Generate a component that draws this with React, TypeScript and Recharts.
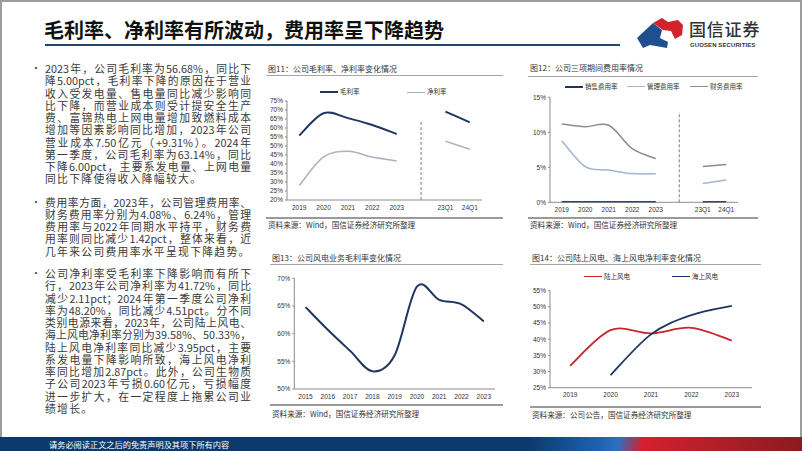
import React from "react";
import { LineChart, Line, XAxis, YAxis, ReferenceLine, Legend } from "recharts";

// 图11 公司毛利率、净利率
const periodsA = ["2019", "2020", "2021", "2022", "2023", " ", "23Q1", "24Q1"];
const grossMargin = [55.8, 68.2, 65.5, 61.68, 56.68, null, 69.14, 63.14];
const netMargin = [28.0, 43.9, 47.1, 43.83, 41.72, null, 52.71, 48.2];
const ticks11 = [20, 25, 30, 35, 40, 45, 50, 55, 60, 65, 70, 75];

// 图12 三项期间费用率
const sellingRate = [0.05, 0.05, 0.05, 0.05, 0.05, null, 0.05, 0.05];
const adminRate = [8.8, 5.1, 4.6, 4.1, 4.08, null, 2.7, 3.2];
const financeRate = [11.2, 10.8, 11.0, 7.66, 6.24, null, 5.1, 5.4];
const ticks12 = [0, 5, 10, 15];

// 图13 风电业务毛利率
const years13 = ["2015", "2016", "2017", "2018", "2019", "2020", "2021", "2022", "2023"];
const windGross = [64.8, 60.7, 56.9, 53.2, 56.1, 68.5, 66.1, 65.3, 62.2];
const ticks13 = [50, 55, 60, 65, 70];

// 图14 陆上/海上风电净利率
const years14 = ["2019", "2020", "2021", "2022", "2023"];
const onshoreNet = [31.8, 42.8, 41.8, 43.53, 39.58];
const offshoreNet = [null, 28.9, 41.5, 47.46, 50.33];
const ticks14 = [25, 30, 35, 40, 45, 50, 55];

const bullet1 = [
  "2023年，公司毛利率为56.68%，同比下",
  "降5.00pct，毛利率下降的原因在于营业",
  "收入受发电量、售电量同比减少影响同",
  "比下降，而营业成本则受计提安全生产",
  "费、富锦热电上网电量增加致燃料成本",
  "增加等因素影响同比增加，2023年公司",
  "营业成本7.50亿元（+9.31%）。2024年",
  "第一季度，公司毛利率为63.14%，同比",
  "下降6.00pct，主要系发电量、上网电量",
  "同比下降使得收入降幅较大。",
];
const bullet2 = [
  "费用率方面，2023年，公司管理费用率、",
  "财务费用率分别为4.08%、6.24%，管理",
  "费用率与2022年同期水平持平，财务费",
  "用率则同比减少1.42pct，整体来看，近",
  "几年来公司费用率水平呈现下降趋势。",
];
const bullet3 = [
  "公司净利率受毛利率下降影响而有所下",
  "行，2023年公司净利率为41.72%，同比",
  "减少2.11pct；2024年第一季度公司净利",
  "率为48.20%，同比减少4.51pct。分不同",
  "类别电源来看，2023年，公司陆上风电、",
  "海上风电净利率分别为39.58%、50.33%，",
  "陆上风电净利率同比减少3.95pct，主要",
  "系发电量下降影响所致，海上风电净利",
  "率同比增加2.87pct。此外，公司生物质",
  "子公司2023年亏损0.60亿元，亏损幅度",
  "进一步扩大，在一定程度上拖累公司业",
  "绩增长。",
];

const NAVY = "#1f3760";
const AXIS = "#8c8c8c";
const FONT = '"Liberation Sans", "Noto Sans CJK SC", sans-serif';

// excel-like smoothing (catmull-rom through the points)
const smooth: any = (ctx: any) => {
  let pts: number[][] = [];
  return {
    areaStart() {},
    areaEnd() {},
    lineStart() {
      pts = [];
    },
    lineEnd() {
      if (!pts.length) return;
      ctx.moveTo(pts[0][0], pts[0][1]);
      for (let i = 0; i < pts.length - 1; i++) {
        const p0 = pts[i - 1] || pts[i];
        const p1 = pts[i];
        const p2 = pts[i + 1];
        const p3 = pts[i + 2] || p2;
        ctx.bezierCurveTo(
          p1[0] + (p2[0] - p0[0]) / 6,
          p1[1] + (p2[1] - p0[1]) / 6,
          p2[0] - (p3[0] - p1[0]) / 6,
          p2[1] - (p3[1] - p1[1]) / 6,
          p2[0],
          p2[1]
        );
      }
    },
    point(x: number, y: number) {
      pts.push([+x, +y]);
    },
  };
};

const data11 = periodsA.map((p, i) => ({ period: p, gross: grossMargin[i], net: netMargin[i] }));
const data12 = periodsA.map((p, i) => ({
  period: p,
  selling: sellingRate[i],
  admin: adminRate[i],
  finance: financeRate[i],
}));
const data13 = years13.map((y, i) => ({ year: y, gross: windGross[i] }));
const data14 = years14.map((y, i) => ({ year: y, onshore: onshoreNet[i], offshore: offshoreNet[i] }));

const pct = (v: number) => `${v}%`;
const tickStyle = { fontSize: 6.5, fill: "#333" };

// legend items placed by name, in series order
const makeLegend = (names: string[], lefts: number[]) => (props: any) => {
  const items = [...(props.payload || [])].sort((a: any, b: any) => names.indexOf(a.value) - names.indexOf(b.value));
  return (
    <div style={{ position: "relative", height: 8 }}>
      {items.map((p: any, i: number) => (
        <div
          key={p.value}
          style={{
            position: "absolute",
            left: lefts[names.indexOf(p.value)] ?? lefts[i],
            top: 0,
            display: "flex",
            alignItems: "center",
            whiteSpace: "nowrap",
            fontSize: 6.5,
            lineHeight: "8px",
            color: "#333",
          }}
        >
          <span
            style={{
              width: 18,
              borderTop: `${p.payload?.strokeWidth ?? 1.5}px solid ${p.color}`,
              marginRight: 2,
            }}
          />
          {p.value}
        </div>
      ))}
    </div>
  );
};

const xAxisProps = {
  tickLine: false,
  interval: 0 as const,
  tick: tickStyle,
  tickSize: 3,
  tickMargin: 2,
  height: 12,
  stroke: AXIS,
};
const yAxisProps = {
  tick: tickStyle,
  tickSize: 2,
  tickMargin: 2,
  stroke: AXIS,
  tickFormatter: pct,
  interval: 0 as const,
};

const Caption = ({ x, x2, titleY, lineY, bottomY, sourceY, title, source }: any) => (
  <>
    <div style={{ position: "absolute", left: x + 2, top: titleY - 5, fontSize: 8, lineHeight: "10px", color: "#333", whiteSpace: "nowrap" }}>
      {title}
    </div>
    <div style={{ position: "absolute", left: x, top: lineY, width: x2 - x, height: 1, background: "#a6a6a6" }} />
    <div style={{ position: "absolute", left: x, top: bottomY, width: x2 - x, height: 1.5, background: "#9a9a9a" }} />
    <div style={{ position: "absolute", left: x + 2, top: sourceY - 5, fontSize: 7.6, lineHeight: "10px", color: "#333", whiteSpace: "nowrap" }}>
      {source}
    </div>
  </>
);

const LH = 12.25;

const Bullet = ({ top, lines }: { top: number; lines: string[] }) => (
  <>
    <div style={{ position: "absolute", left: 31, top: top - LH / 2, fontSize: 10, lineHeight: `${LH}px`, color: "#444" }}>•</div>
    {lines.map((t, i) => (
      <div
        key={i}
        style={{
          position: "absolute",
          left: 45,
          top: top - LH / 2 + i * LH,
          width: 206,
          height: LH,
          fontSize: 10.8,
          lineHeight: `${LH}px`,
          color: "#3a3a3a",
          whiteSpace: "nowrap",
          textAlign: "justify",
          textAlignLast: i === lines.length - 1 ? "left" : "justify",
          letterSpacing: i === lines.length - 1 ? 1.3 : 0,
        }}
      >
        {t}
      </div>
    ))}
  </>
);

export default function App() {
  return (
    <div
      style={{
        position: "relative",
        width: 802,
        height: 451,
        overflow: "hidden",
        background: "#fff",
        fontFamily: '"Noto Sans CJK SC", sans-serif',
      }}
    >
      <style>{`body{margin:0}`}</style>
      {/* slide frame */}
      <div style={{ position: "absolute", left: 0, top: 0, width: 802, height: 1.5, background: "#9c9c9c" }} />
      <div style={{ position: "absolute", left: 0, top: 0, width: 1.5, height: 451, background: "#9c9c9c" }} />
      <div style={{ position: "absolute", left: 800, top: 0, width: 1.5, height: 451, background: "#9c9c9c" }} />

      {/* header */}
      <div style={{ position: "absolute", left: 44, top: 17, fontSize: 20, lineHeight: "26px", fontWeight: 700, color: "#111", whiteSpace: "nowrap" }}>
        毛利率、净利率有所波动，费用率呈下降趋势
      </div>
      <div style={{ position: "absolute", left: 45, top: 43.5, width: 575, height: 2.5, background: "#24466f" }} />
      <svg style={{ position: "absolute", left: 0, top: 0 }} width={802} height={60}>
        <polygon points="637,38 653,23 662,30 660,38 668,42 667,48 650,45 643,48" fill="#1f4f8f" />
        <polygon points="653,23 662,18 668,22 678,20 683,25 682,35 675,39 671,31 663,30" fill="#d1222e" />
      </svg>
      <div style={{ position: "absolute", left: 689, top: 17, fontSize: 17, lineHeight: "24px", fontWeight: 500, color: "#333", letterSpacing: 0.8, whiteSpace: "nowrap" }}>
        国信证券
      </div>
      <div style={{ position: "absolute", left: 690, top: 41, fontSize: 6, lineHeight: "8px", fontWeight: 700, color: "#333", fontFamily: FONT, letterSpacing: 0.1, whiteSpace: "nowrap" }}>
        GUOSEN SECURITIES
      </div>

      {/* text column */}
      <Bullet top={68.3} lines={bullet1} />
      <Bullet top={201.7} lines={bullet2} />
      <Bullet top={273.3} lines={bullet3} />

      {/* captions */}
      <Caption x={266} x2={503} titleY={69} lineY={75} bottomY={217} sourceY={225} title="图11：公司毛利率、净利率变化情况" source="资料来源：Wind，国信证券经济研究所整理" />
      <Caption x={528} x2={758} titleY={68} lineY={75.5} bottomY={217} sourceY={225} title="图12：公司三项期间费用率情况" source="资料来源：Wind，国信证券经济研究所整理" />
      <Caption x={270} x2={503} titleY={258} lineY={264} bottomY={404} sourceY={414} title="图13：公司风电业务毛利率变化情况" source="资料来源：Wind，国信证券经济研究所整理" />
      <Caption x={530} x2={761} titleY={258} lineY={264} bottomY={406} sourceY={415} title="图14：公司陆上风电、海上风电净利率变化情况" source="资料来源：公司公告，国信证券经济研究所整理" />

      {/* 图11 */}
      <div style={{ position: "absolute", left: 258, top: 80, fontFamily: FONT }}>
        <LineChart width={240} height={135} data={data11} margin={{ top: 21, right: 16, bottom: 3, left: 0 }}>
          <XAxis dataKey="period" padding={{ left: 12.2, right: 12.2 }} {...xAxisProps} />
          <YAxis width={29} domain={[20, 75]} ticks={ticks11} {...yAxisProps} />
          <Legend verticalAlign="middle" wrapperStyle={{ top: 8, left: 0, width: 240, height: 8 }} content={makeLegend(["毛利率", "净利率"], [62, 149])} />
          <ReferenceLine segment={[{ x: " ", y: 20 }, { x: " ", y: 63.5 }]} stroke="#7f7f7f" strokeDasharray="3 2" />
          <Line dataKey="gross" name="毛利率" type={smooth} stroke={NAVY} strokeWidth={2} dot={false} activeDot={false} isAnimationActive={false} />
          <Line dataKey="net" name="净利率" type={smooth} stroke="#a9b2c0" strokeWidth={1.5} dot={false} activeDot={false} isAnimationActive={false} />
        </LineChart>
      </div>

      {/* 图12 */}
      <div style={{ position: "absolute", left: 510, top: 80, fontFamily: FONT }}>
        <LineChart width={245} height={140} data={data12} margin={{ top: 17.3, right: 17, bottom: 5.7, left: 0 }}>
          <XAxis dataKey="period" padding={{ left: 11.75, right: 11.75 }} {...xAxisProps} />
          <YAxis width={40} domain={[0, 15]} ticks={ticks12} {...yAxisProps} />
          <Legend verticalAlign="middle" wrapperStyle={{ top: 2.7, left: 0, width: 245, height: 8 }} content={makeLegend(["销售费用率", "管理费用率", "财务费用率"], [55, 117, 180])} />
          <ReferenceLine segment={[{ x: " ", y: 0 }, { x: " ", y: 12.9 }]} stroke="#7f7f7f" strokeDasharray="3 2" />
          <Line dataKey="selling" name="销售费用率" type={smooth} stroke={NAVY} strokeWidth={2} dot={false} activeDot={false} isAnimationActive={false} />
          <Line dataKey="admin" name="管理费用率" type={smooth} stroke="#a3b6cf" strokeWidth={1.5} dot={false} activeDot={false} isAnimationActive={false} />
          <Line dataKey="finance" name="财务费用率" type={smooth} stroke="#868d98" strokeWidth={1.5} dot={false} activeDot={false} isAnimationActive={false} />
        </LineChart>
      </div>

      {/* 图13 */}
      <div style={{ position: "absolute", left: 265, top: 268, fontFamily: FONT }}>
        <LineChart width={235} height={135} data={data13} margin={{ top: 10.3, right: 5, bottom: 2, left: 0 }}>
          <XAxis dataKey="year" padding={{ left: 11.2, right: 11.2 }} {...xAxisProps} />
          <YAxis width={29.3} domain={[50, 70]} ticks={ticks13} {...yAxisProps} />
          <Line dataKey="gross" name="风电毛利率" type={smooth} stroke={NAVY} strokeWidth={2} dot={false} activeDot={false} isAnimationActive={false} />
        </LineChart>
      </div>

      {/* 图14 */}
      <div style={{ position: "absolute", left: 520, top: 268, fontFamily: FONT }}>
        <LineChart width={240} height={135} data={data14} margin={{ top: 22.7, right: 8, bottom: 3.3, left: 0 }}>
          <XAxis dataKey="year" padding={{ left: 20.2, right: 20.2 }} {...xAxisProps} />
          <YAxis width={30} domain={[25, 55]} ticks={ticks14} {...yAxisProps} />
          <Legend verticalAlign="middle" wrapperStyle={{ top: 4.7, left: 0, width: 240, height: 8 }} content={makeLegend(["陆上风电", "海上风电"], [64, 152])} />
          <Line dataKey="onshore" name="陆上风电" type={smooth} stroke="#c9252f" strokeWidth={1.8} dot={false} activeDot={false} isAnimationActive={false} />
          <Line dataKey="offshore" name="海上风电" type={smooth} stroke={NAVY} strokeWidth={1.8} dot={false} activeDot={false} isAnimationActive={false} />
        </LineChart>
      </div>

      {/* footer */}
      <div
        style={{
          position: "absolute",
          left: 0,
          top: 437,
          width: 802,
          height: 14,
          background:
            "linear-gradient(100deg, #0d3a6c 0%, #0d3a6c 66%, #1b5fb0 74%, #2f6fc0 77%, #d4202c 80%, #b51f2a 88%, #8c1a1e 100%)",
        }}
      />
      <div style={{ position: "absolute", left: 49, top: 438, fontSize: 8.2, lineHeight: "12px", color: "#fff", whiteSpace: "nowrap" }}>
        请务必阅读正文之后的免责声明及其项下所有内容
      </div>
    </div>
  );
}
